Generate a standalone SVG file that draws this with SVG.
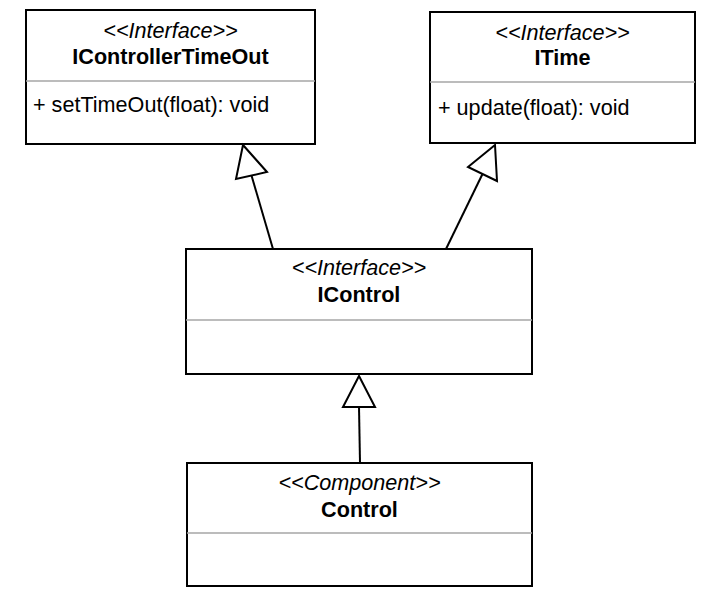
<svg xmlns="http://www.w3.org/2000/svg" width="712" height="615" viewBox="0 0 712 615">
<style>
.box{fill:#fff;stroke:#000;stroke-width:2}
.sep{stroke:#a6a6a6;stroke-width:1.5}
.st{font-family:"Liberation Sans",Arial,sans-serif;font-size:21.6px;font-style:italic;text-anchor:middle;fill:#000}
.nm{font-family:"Liberation Sans",Arial,sans-serif;font-size:21.6px;font-weight:bold;text-anchor:middle;fill:#000}
.mt{font-family:"Liberation Sans",Arial,sans-serif;font-size:21.6px;fill:#000}
.ln{stroke:#000;stroke-width:2;fill:none}
.tri{fill:#fff;stroke:#000;stroke-width:2;stroke-linejoin:miter}
</style>
<rect width="712" height="615" fill="#fff"/>
<g id="IControllerTimeOut">
<rect class="box" x="26" y="10" width="289" height="134"/>
<line class="sep" x1="26" y1="81" x2="315" y2="81"/>
<text class="st" x="170.5" y="38">&lt;&lt;Interface&gt;&gt;</text>
<text class="nm" x="170.5" y="64">IControllerTimeOut</text>
<text class="mt" x="33" y="112">+ setTimeOut(float): void</text>
</g>
<g id="ITime">
<rect class="box" x="430" y="12" width="265" height="131"/>
<line class="sep" x1="430" y1="82" x2="695" y2="82"/>
<text class="st" x="562.5" y="40">&lt;&lt;Interface&gt;&gt;</text>
<text class="nm" x="562.5" y="65">ITime</text>
<text class="mt" x="438" y="115">+ update(float): void</text>
</g>
<g id="IControl">
<rect class="box" x="186" y="249" width="346" height="125"/>
<line class="sep" x1="186" y1="320" x2="532" y2="320"/>
<text class="st" x="359" y="275">&lt;&lt;Interface&gt;&gt;</text>
<text class="nm" x="359" y="302">IControl</text>
</g>
<g id="Control">
<rect class="box" x="187" y="463" width="345" height="123"/>
<line class="sep" x1="187" y1="533" x2="532" y2="533"/>
<text class="st" x="359.5" y="490">&lt;&lt;Component&gt;&gt;</text>
<text class="nm" x="359.5" y="517">Control</text>
</g>
<g id="connectors">
<line class="ln" x1="273" y1="249" x2="251.5" y2="175.5"/>
<polygon class="tri" points="243,145 236,179 267,172"/>
<line class="ln" x1="446" y1="249" x2="482.5" y2="174"/>
<polygon class="tri" points="495,145 468,167 497,181"/>
<line class="ln" x1="360" y1="463" x2="359" y2="407"/>
<polygon class="tri" points="359,376 343,407 375,407"/>
</g>
</svg>
